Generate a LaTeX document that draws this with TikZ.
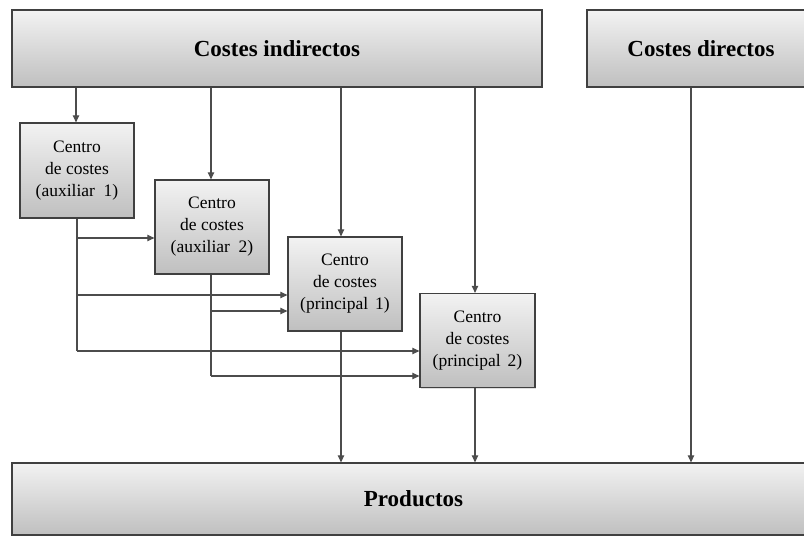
\documentclass[tikz,border=0pt]{standalone}
\usepackage{fontspec}
\setmainfont{Liberation Serif}
\usetikzlibrary{arrows.meta,shadows}

\tikzset{
  boxbase/.style={draw=black!75, line width=1.3pt, rectangle,
    top color=black!5, bottom color=black!25,
    drop shadow={shadow xshift=1.2pt, shadow yshift=-1.2pt, opacity=0.25},
    inner sep=0pt, align=center},
  bigbox/.style={boxbase, font=\fontsize{23}{27}\selectfont\bfseries},
  centrebox/.style={boxbase, minimum width=114pt, minimum height=94pt,
    font=\fontsize{17.5}{22}\selectfont},
  wire/.style={draw=black!70, line width=1.1pt},
  arr/.style={wire, -{Triangle[length=7pt,width=6.5pt]}}
}

\begin{document}
\begin{tikzpicture}[x=1pt,y=-1pt]
\useasboundingbox (0,0) rectangle (804,538);

% cost sources and final products
\node[bigbox, minimum width=530pt, minimum height=77pt] (ind) at (277,48.5) {Costes indirectos};
\node[bigbox, minimum width=228pt, minimum height=77pt] (dir) at (701,48.5) {Costes directos};
\node[bigbox, minimum width=803pt, minimum height=72pt] (prod) at (413.5,499) {Productos};

% cost centres
\node[centrebox, minimum height=95pt] (c1) at (77,170.5) {Centro\\de costes\\(auxiliar\hspace{0.5em}1)};
\node[centrebox] (c2) at (212,227) {Centro\\de costes\\(auxiliar\hspace{0.5em}2)};
\node[centrebox] (p1) at (345,284) {Centro\\de costes\\(principal\hspace{0.4em}1)};
\node[centrebox, minimum width=115pt] (p2) at (477.5,340.5) {Centro\\de costes\\(principal\hspace{0.4em}2)};

% vertical lanes
\coordinate (xa) at (76,0);
\coordinate (xb) at (211,0);
\coordinate (xc) at (341,0);
\coordinate (xd) at (475,0);
\coordinate (xe) at (691,0);

% indirect costs into each centre
\draw[arr] (ind.south -| xa) -- (c1.north -| xa);
\draw[arr] (ind.south -| xb) -- (c2.north -| xb);
\draw[arr] (ind.south -| xc) -- (p1.north -| xc);
\draw[arr] (ind.south -| xd) -- (p2.north -| xd);

% direct costs straight to products
\draw[arr] (dir.south -| xe) -- (prod.north -| xe);

% main centres to products
\draw[arr] (p1.south -| xc) -- (prod.north -| xc);
\draw[arr] (p2.south -| xd) -- (prod.north -| xd);

% distribution of auxiliary centre 1
\coordinate (k1) at (77,238);
\coordinate (k2) at (77,295);
\coordinate (k3) at (77,351);
\draw[wire] (c1.south -| k1) -- (k3);
\draw[arr] (k1) -- (k1 -| c2.west);
\draw[arr] (k2) -- (k2 -| p1.west);
\draw[arr] (k3) -- (k3 -| p2.west);

% distribution of auxiliary centre 2
\coordinate (m1) at (211,311);
\coordinate (m2) at (211,376);
\draw[wire] (c2.south -| m1) -- (m2);
\draw[arr] (m1) -- (m1 -| p1.west);
\draw[arr] (m2) -- (m2 -| p2.west);
\end{tikzpicture}
\end{document}
